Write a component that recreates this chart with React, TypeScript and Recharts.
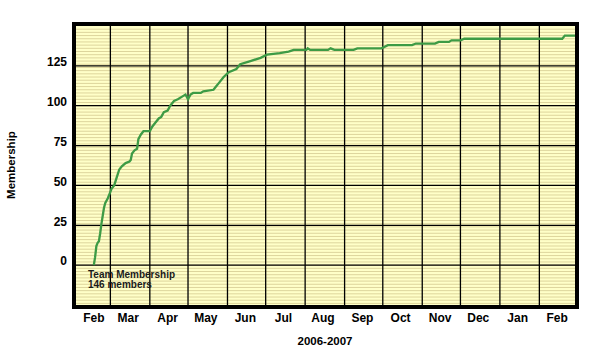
import { LineChart, Line, XAxis, YAxis, ReferenceLine, CartesianGrid } from "recharts";

// x is days counted from 1 Feb 2006
const MONTHS = ["Feb", "Mar", "Apr", "May", "Jun", "Jul", "Aug", "Sep", "Oct", "Nov", "Dec", "Jan", "Feb"];
const MONTH_MID = [15, 42, 73, 103, 134, 164, 195, 226, 256, 287, 317, 348, 379];
const MONTH_START = [28, 59, 89, 120, 150, 181, 212, 242, 273, 303, 334, 365];
const Y_TICKS = [0, 25, 50, 75, 100, 125];
const MINOR_Y = Array.from({ length: 87 }, (_, i) => -24 + i * 2);

const DAYS = [
  15, 16, 17, 18, 19, 20, 21, 22, 23, 24, 26, 28, 29, 31, 33, 35, 37, 40, 43, 44,
  45, 47, 49, 50, 52, 54, 59, 61, 63, 66, 68, 70, 73, 75, 78, 81, 85, 87, 89, 91,
  93, 99, 101, 109, 111, 113, 117, 121, 127, 130, 138, 146, 151, 161, 168, 172, 182, 183, 185, 199,
  201, 204, 219, 222, 241, 246, 265, 268, 283, 286, 294, 296, 303, 306, 383, 385, 393,
];
const MEMBERS = [
  0, 5, 12, 14, 15, 20, 26, 31, 36, 39, 42, 46, 48, 50, 55, 60, 62, 64, 65, 66,
  70, 72, 73, 79, 82, 84, 84, 87, 89, 92, 93, 96, 97, 100, 103, 104, 106, 107, 104, 107,
  108, 108, 109, 110, 112, 114, 118, 121, 123, 126, 128, 130, 132, 133, 134, 135, 135, 136, 135, 135,
  136, 135, 135, 136, 136, 138, 138, 139, 139, 140, 140, 141, 141, 142, 142, 144, 144,
];

const points = DAYS.map((d, i) => ({ day: d, members: MEMBERS[i] }));

const FONT = "'Liberation Sans', Arial, sans-serif";
const TICK = { fontSize: 12, fontWeight: 700, fill: "#000", fontFamily: FONT };

export default function App() {
  return (
    <div style={{ position: "relative", width: 605, height: 353, background: "#fff", fontFamily: FONT }}>
      <style>{"body{margin:0}"}</style>
      <LineChart width={605} height={353} data={points} margin={{ top: 26, right: 30, bottom: 18, left: 16 }}>
        <CartesianGrid horizontal={false} vertical={false} fill="#ffffc8" fillOpacity={1} />
        {MINOR_Y.map((v) => (
          <ReferenceLine key={"m" + v} y={v} stroke="#ddd59c" strokeWidth={1} />
        ))}
        {Y_TICKS.map((v) => (
          <ReferenceLine key={"y" + v} y={v} stroke="#000" strokeWidth={1.3} />
        ))}
        {MONTH_START.map((v) => (
          <ReferenceLine key={"x" + v} x={v} stroke="#000" strokeWidth={1.3} />
        ))}
        <XAxis
          dataKey="day" type="number" domain={[1, 393]} ticks={MONTH_MID}
          tickFormatter={(v) => MONTHS[MONTH_MID.indexOf(v)] ?? ""}
          tick={TICK} axisLine={false} tickLine={false} tickSize={0} tickMargin={8}
          height={30} interval={0} allowDataOverflow
        />
        <YAxis
          type="number" domain={[-25, 150]} ticks={Y_TICKS} tick={{ ...TICK, dy: -4 }}
          axisLine={false} tickLine={false} tickSize={0} tickMargin={9} width={60}
          interval={0} allowDataOverflow
        />
        <Line
          type="linear" dataKey="members" stroke="#3d9b45" strokeWidth={2.3}
          dot={false} isAnimationActive={false} zIndex={1000}
        />
      </LineChart>

      {/* plot frame */}
      <div style={{
        position: "absolute", left: 72, top: 22, width: 499, height: 279,
        border: "4px solid #000", pointerEvents: "none",
      }} />

      <div style={{
        position: "absolute", left: 88, top: 270, fontSize: 10, fontWeight: 700,
        lineHeight: "10px", color: "#1a1a1a", whiteSpace: "nowrap",
      }}>
        Team Membership<br />146 members
      </div>

      <div style={{
        position: "absolute", left: 11, top: 165, fontSize: 11.5, fontWeight: 700,
        transform: "translate(-50%, -50%) rotate(-90deg)", whiteSpace: "nowrap",
      }}>
        Membership
      </div>

      <div style={{
        position: "absolute", left: 325, top: 341, fontSize: 11.5, fontWeight: 700,
        transform: "translate(-50%, -50%)", whiteSpace: "nowrap",
      }}>
        2006-2007
      </div>
    </div>
  );
}
